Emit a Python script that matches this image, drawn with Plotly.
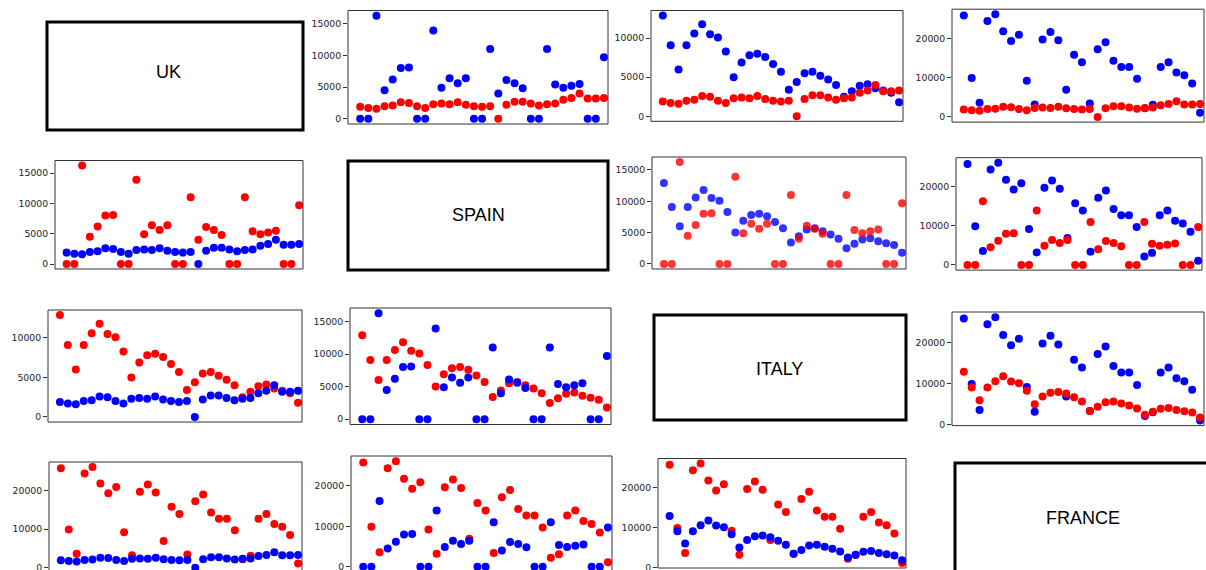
import plotly.graph_objects as go

# Daily counts over 31 days for each country
countries = ["UK", "SPAIN", "ITALY", "FRANCE"]
uk = [1900, 1700, 1600, 2000, 2100, 2600, 2500, 2000, 1700, 2300, 2400, 2300, 2600, 2200, 2000, 1900,
      2000, 0, 2200, 2700, 2700, 2400, 2100, 2300, 2400, 3000, 3300, 4000, 3200, 3200, 3300]
spain = [0, 0, 16250, 4500, 6200, 8000, 8100, 0, 0, 13900, 4900, 6400, 5600, 6400, 0, 0,
         11000, 4000, 6100, 5600, 4800, 0, 0, 11000, 5400, 4900, 5200, 5500, 0, 0, 9700]
italy = [12900, 9100, 6000, 9100, 10600, 11800, 10500, 10100, 8300, 5000, 6900, 7800, 8000, 7600, 6700, 5700,
         3400, 4400, 5500, 5700, 5200, 4700, 4000, 2500, 3200, 3900, 4100, 3600, 3300, 3000, 1800]
france = [25800, 9900, 3600, 24400, 26100, 21800, 19300, 20900, 9200, 3200, 19700, 21600, 19500, 6900, 15800, 13900,
          3400, 17200, 19000, 14300, 12700, 12700, 9700, 2200, 3100, 12700, 13900, 11300, 10600, 8500, 1100]
series = [uk, spain, italy, france]
days = list(range(len(uk)))

W, H = 1206, 570

# Pixel boxes (left, top, right, bottom) of each scatter panel, keyed by (row, col)
panel_boxes = {
    (0, 1): (348, 10.5, 608, 124),
    (0, 2): (651, 10.5, 903, 121.3),
    (0, 3): (952, 9.2, 1204, 122.1),
    (1, 0): (55, 160.5, 303, 269),
    (1, 2): (652, 157, 906, 269),
    (1, 3): (956, 157.7, 1202, 270.1),
    (2, 0): (48, 310, 302, 422),
    (2, 1): (350, 308, 611, 424.5),
    (2, 3): (952, 312, 1204, 425.6),
    (3, 0): (49, 462, 302, 572.7),
    (3, 1): (351, 456, 612, 572),
    (3, 2): (658, 458.5, 906, 568),
}
# Boxes holding the country names on the diagonal, with text centre
label_boxes = {
    0: ((47, 22, 303, 130), (168, 72)),
    1: ((348, 161, 608, 270), (478, 215)),
    2: ((654, 315, 906, 420), (779, 369)),
    3: ((955, 463, 1210, 575), (1083, 518)),
}
faded_panels = {(1, 2)}


def px_x(v):
    return v / W


def px_y(v):
    return 1 - v / H


fig = go.Figure()
shapes = []
annotations = []
axes = {}

for k, ((i, j), (l, t, r, b)) in enumerate(panel_boxes.items(), start=1):
    xname = "x" if k == 1 else f"x{k}"
    yname = "y" if k == 1 else f"y{k}"
    vals = series[i] + series[j]
    lo, hi = min(vals), max(vals)
    pad = 0.05 * (hi - lo)
    y0, y1 = lo - pad, hi + pad
    frame_b = b
    if b > H:
        y0 = y1 - (y1 - y0) * (H - t) / (b - t)
        b = H

    # higher-index country is drawn first
    order = sorted([(i, "red"), (j, "blue")], key=lambda p: -p[0])
    for idx, color in order:
        fig.add_trace(go.Scatter(
            x=days, y=series[idx], mode="markers",
            marker=dict(size=8, color=color,
                        opacity=0.8 if (i, j) in faded_panels else 1.0,
                        line=dict(width=0)),
            xaxis=xname, yaxis=yname, showlegend=False,
            hoverinfo="skip",
        ))

    axes["xaxis" if k == 1 else f"xaxis{k}"] = dict(
        domain=[px_x(l), px_x(r)], range=[-1.5, len(days) - 0.5],
        showticklabels=False, ticks="", showgrid=False, zeroline=False,
        showline=False, anchor=yname, fixedrange=True, automargin=False,
    )
    axes["yaxis" if k == 1 else f"yaxis{k}"] = dict(
        domain=[px_y(b), px_y(t)], range=[y0, y1],
        dtick=5000 if hi < 20000 else 10000, tick0=0, tickformat="d",
        ticks="outside", ticklen=4, tickwidth=1, tickcolor="#333",
        tickfont=dict(family="DejaVu Sans", size=9.3, color="#222"),
        ticklabeloverflow="allow",
        showgrid=False, zeroline=False, showline=False, anchor=xname,
        fixedrange=True, automargin=False,
    )
    shapes.append(dict(
        type="rect", xref="paper", yref="paper",
        x0=px_x(l), x1=px_x(r), y0=px_y(frame_b), y1=px_y(t),
        line=dict(color="#333", width=1), fillcolor="rgba(0,0,0,0)", layer="above",
    ))

for n, ((l, t, r, b), (cx, cy)) in label_boxes.items():
    shapes.append(dict(
        type="rect", xref="paper", yref="paper",
        x0=px_x(l), x1=px_x(r), y0=px_y(b), y1=px_y(t),
        line=dict(color="black", width=3), fillcolor="white",
    ))
    annotations.append(dict(
        text=countries[n], xref="paper", yref="paper", x=px_x(cx), y=px_y(cy),
        xanchor="center", yanchor="middle", showarrow=False,
        font=dict(family="Liberation Sans", size=18, color="black"),
    ))

fig.update_layout(
    width=W, height=H, margin=dict(l=0, r=0, t=0, b=0, pad=0, autoexpand=False),
    paper_bgcolor="white", plot_bgcolor="white",
    shapes=shapes, annotations=annotations, **axes,
)
fig.write_html("out.html")
